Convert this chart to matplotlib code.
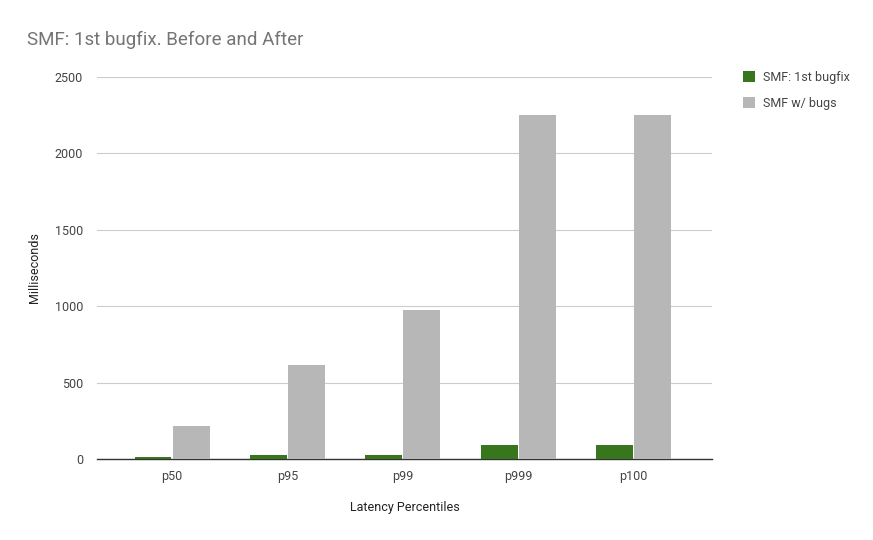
import matplotlib
matplotlib.use("Agg")
import matplotlib.pyplot as plt
import numpy as np

plt.rcParams["font.family"] = ["Roboto", "DejaVu Sans"]

categories = ["p50", "p95", "p99", "p999", "p100"]
bugfix_ms = [13, 26, 26, 92, 92]
with_bugs_ms = [216, 615, 975, 2251, 2250]
y_ticks = [0, 500, 1000, 1500, 2000, 2500]

GREEN = "#38761d"
GRAY = "#b7b7b7"
TEXT = "#444444"

fig = plt.figure(figsize=(8.73, 5.40), dpi=100)
ax = fig.add_axes([97 / 873, 1 - 459 / 540, 615 / 873, 382 / 540])

x = np.arange(len(categories))
w = 0.32
ax.bar(x - w / 2 - 0.005, bugfix_ms, w, color=GREEN, label="SMF: 1st bugfix", zorder=3)
ax.bar(x + w / 2 + 0.005, with_bugs_ms, w, color=GRAY, label="SMF w/ bugs", zorder=3)

ax.set_xlim(-0.65, 4.68)
ax.set_ylim(0, 2500)
ax.set_yticks(y_ticks)
ax.set_xticks(x)
ax.set_xticklabels(categories)
ax.yaxis.grid(True, color="#cccccc", linewidth=0.8, zorder=0)
for s in ["top", "right", "left"]:
    ax.spines[s].set_visible(False)
ax.spines["bottom"].set_color("#333333")
ax.spines["bottom"].set_linewidth(1.0)
ax.tick_params(axis="both", length=0, labelsize=9, colors=TEXT, pad=8)
ax.tick_params(axis="y", pad=10)

ax.set_xlabel("Latency Percentiles", fontsize=9, color="#222222", labelpad=13)
ax.set_ylabel("Milliseconds", fontsize=9, color="#222222", labelpad=10)

fig.text(27 / 873, 1 - 40 / 540, "SMF: 1st bugfix. Before and After",
         fontsize=13.5, color="#757575", va="center")

leg = ax.legend(loc="upper left", bbox_to_anchor=(635 / 615, 1.045),
                frameon=False, fontsize=9, handlelength=0.95, handleheight=0.95,
                labelspacing=1.0, handletextpad=0.6)
for t in leg.get_texts():
    t.set_color(TEXT)

fig.savefig("out.png", dpi=100)
